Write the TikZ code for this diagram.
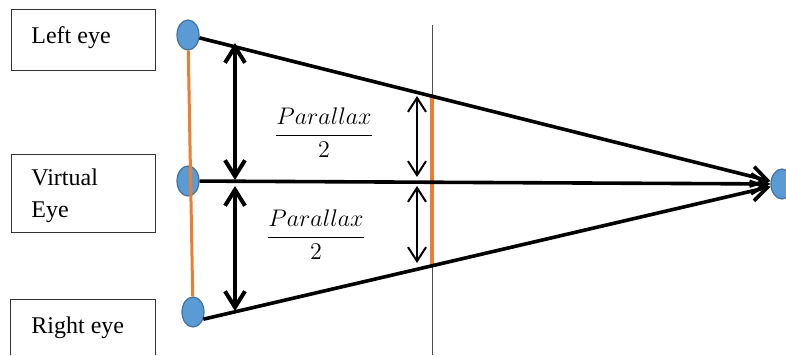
\documentclass[tikz,border=0pt]{standalone}
\usepackage{amsmath}
\usepackage{fontspec}
\setmainfont{Liberation Serif}
\usetikzlibrary{arrows.meta,shapes.geometric}

\definecolor{eyeblue}{HTML}{5B9BD5}
\definecolor{eyeedge}{HTML}{41719C}
\definecolor{baseorange}{HTML}{ED7D31}

\tikzset{
  eye/.style={ellipse, draw=eyeedge, fill=eyeblue, line width=0.6pt,
    minimum width=11pt, minimum height=15pt, inner sep=0pt},
  labelbox/.style={draw=black!80, line width=0.5pt, minimum width=72pt, inner sep=0pt},
  boxtext/.style={anchor=base west, inner sep=0pt, font=\fontsize{12}{14}\selectfont},
  fraclabel/.style={anchor=base, inner sep=0pt, font=\fontsize{12.5}{14}\selectfont},
  ray/.style={line width=1.8pt, -{Straight Barb[length=8pt,width=10pt]}},
  gap/.style={line width=2pt,
    {Straight Barb[length=8pt,width=10pt]}-{Straight Barb[length=8pt,width=10pt]}},
  halfgap/.style={line width=1pt,
    {Straight Barb[length=7pt,width=9pt]}-{Straight Barb[length=7pt,width=9pt]}},
}

\begin{document}
\begin{tikzpicture}[x=0.5pt, y=-0.5pt]
  \useasboundingbox (0,0) rectangle (786,355);

  % text boxes on the left
  \node[labelbox, minimum height=30.5pt] (leftbox) at (83,39.5) {};
  \node[labelbox, minimum height=39pt] (virtualbox) at (83,193) {};
  \node[inner sep=0pt, minimum width=72pt, minimum height=27.5pt] (rightbox) at (83,327.5) {};
  \draw[draw=black!80, line width=0.5pt] (rightbox.south west) |- (rightbox.north east) -- (rightbox.south east);

  \node[boxtext] (lefttxt) at (31,43) {Left eye};
  \node[boxtext] (virtualtxt) at (31,185) {Virtual};
  \node[boxtext] (eyetxt) at (31,217) {Eye};
  \node[boxtext] (righttxt) at (31,333) {Right eye};

  % eyes and the point they look at
  \node[eye] (leye) at (188,35) {};
  \node[eye] (veye) at (188,181) {};
  \node[eye] (reye) at (193,312) {};
  \node[eye] (focus) at (782,184) {};

  % screen plane
  \coordinate (stop) at (432,25);
  \coordinate (sbot) at (432,355);
  \coordinate (ptop) at (432,97);
  \coordinate (pbot) at (432,267);
  \draw[black!70, line width=0.5pt] (stop) -- (sbot);
  \draw[baseorange, line width=2pt] (ptop) -- (pbot);

  % eye separation
  \draw[baseorange, line width=1.5pt] (leye) -- (reye);

  % lines of sight
  \draw[ray] (leye) -- (focus);
  \draw[ray] (veye) -- (focus);
  \draw[ray] (reye.-35) -- (focus);

  % half separations at the eyes
  \coordinate (a1) at (235,43);
  \coordinate (a2) at (235,180);
  \coordinate (a3) at (235,186);
  \coordinate (a4) at (235,311);
  \draw[gap] (a1) -- (a2);
  \draw[gap] (a3) -- (a4);

  % half parallax on the screen
  \coordinate (b1) at (417,96);
  \coordinate (b2) at (417,177);
  \coordinate (b3) at (417,186);
  \coordinate (b4) at (417,263);
  \draw[halfgap] (b1) -- (b2);
  \draw[halfgap] (b3) -- (b4);

  \node[fraclabel] (uphalf) at (324,141) {$\dfrac{Parallax}{2}$};
  \node[fraclabel] (lowhalf) at (316,243) {$\dfrac{Parallax}{2}$};
\end{tikzpicture}
\end{document}
